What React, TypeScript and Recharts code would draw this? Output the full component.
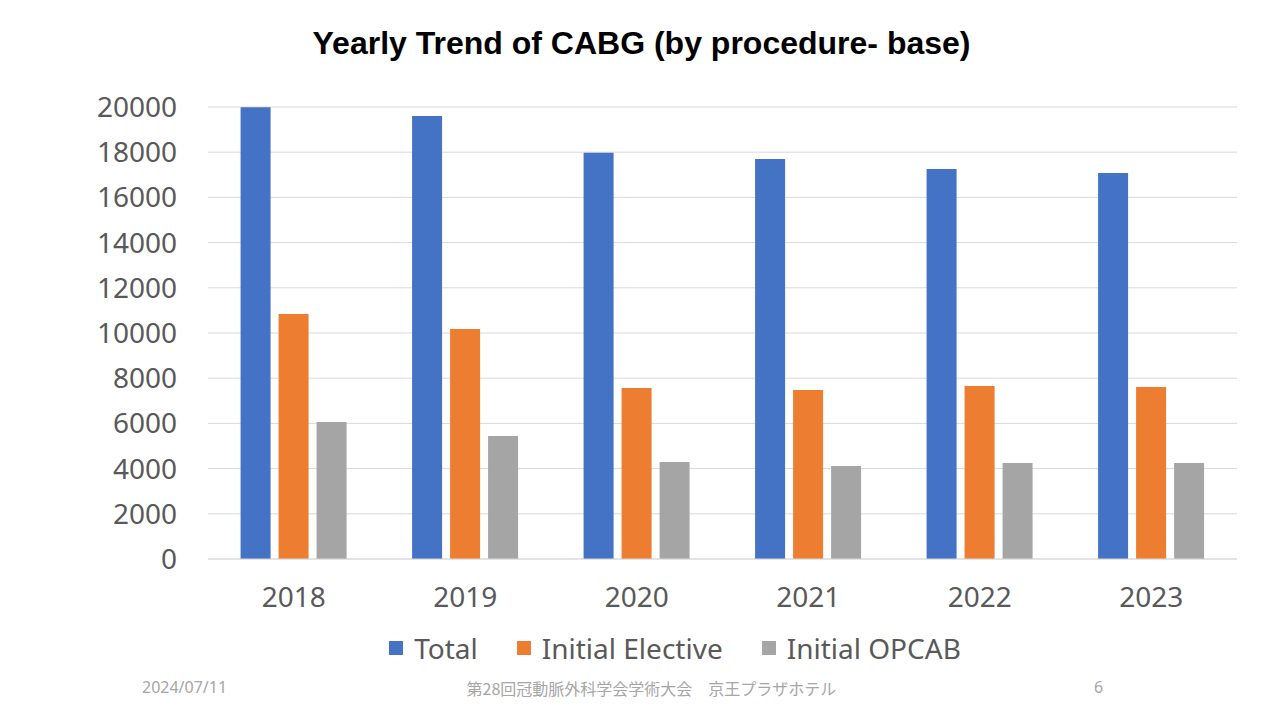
import { Bar, BarChart, CartesianGrid, Legend, XAxis, YAxis } from "recharts";

const YEARS = ["2018", "2019", "2020", "2021", "2022", "2023"];
const TOTAL = [19990, 19600, 17980, 17700, 17260, 17080];
const INITIAL_ELECTIVE = [10840, 10180, 7570, 7480, 7650, 7610];
const INITIAL_OPCAB = [6060, 5440, 4290, 4120, 4250, 4250];
const Y_TICKS = [0, 2000, 4000, 6000, 8000, 10000, 12000, 14000, 16000, 18000, 20000];

const SERIES = [
  { key: "total", name: "Total", color: "#4472C4" },
  { key: "elective", name: "Initial Elective", color: "#ED7D31" },
  { key: "opcab", name: "Initial OPCAB", color: "#A5A5A5" },
];

const FONT = "'Noto Sans', 'Open Sans', sans-serif";

function LegendRow() {
  return (
    <div
      style={{
        display: "flex",
        justifyContent: "center",
        alignItems: "center",
        gap: 39,
        fontFamily: FONT,
        fontSize: 28,
        color: "#595959",
        marginLeft: 70,
      }}
    >
      {SERIES.map((s) => (
        <div key={s.key} style={{ display: "flex", alignItems: "center", gap: 11 }}>
          <span style={{ width: 14, height: 14, background: s.color, display: "inline-block" }} />
          <span>{s.name}</span>
        </div>
      ))}
    </div>
  );
}

export default function App() {
  const data = YEARS.map((y, i) => ({
    year: y,
    total: TOTAL[i],
    elective: INITIAL_ELECTIVE[i],
    opcab: INITIAL_OPCAB[i],
  }));

  return (
    <div
      style={{
        position: "absolute",
        left: 0,
        top: 0,
        width: 1280,
        height: 720,
        background: "#fff",
        overflow: "hidden",
      }}
    >
      <div
        style={{
          position: "absolute",
          top: 25,
          left: 0,
          width: 1283,
          textAlign: "center",
          fontFamily: "'Liberation Sans', Arial, sans-serif",
          fontWeight: "bold",
          fontSize: 32,
          color: "#000",
        }}
      >
        Yearly Trend of CABG (by procedure- base)
      </div>

      <BarChart
        width={1280}
        height={720}
        data={data}
        margin={{ top: 107, right: 43, left: 0, bottom: 101 }}
        barGap={8}
        barCategoryGap="19%"
      >
        <CartesianGrid vertical={false} stroke="#d9d9d9" strokeWidth={1} />
        <XAxis
          dataKey="year"
          height={60}
          tickLine={false}
          axisLine={{ stroke: "#d9d9d9" }}
          tickSize={0}
          tickMargin={28}
          tick={{ fill: "#595959", fontSize: 28, fontFamily: FONT }}
        />
        <YAxis
          width={208}
          domain={[0, 20000]}
          ticks={Y_TICKS}
          interval={0}
          tickLine={false}
          axisLine={false}
          tickSize={0}
          tickMargin={31}
          tick={{ fill: "#595959", fontSize: 28, fontFamily: FONT }}
        />
        <Legend
          layout="horizontal"
          verticalAlign="middle"
          align="center"
          wrapperStyle={{ top: 629, left: 0, width: 1280 }}
          content={() => <LegendRow />}
        />
        {SERIES.map((s) => (
          <Bar key={s.key} dataKey={s.key} name={s.name} fill={s.color} isAnimationActive={false} />
        ))}
      </BarChart>

      <div
        style={{
          position: "absolute",
          top: 676,
          left: 142,
          fontFamily: FONT,
          fontSize: 16,
          color: "#a6a6a6",
        }}
      >
        2024/07/11
      </div>
      <div
        style={{
          position: "absolute",
          top: 676,
          left: 0,
          width: 1303,
          textAlign: "center",
          fontFamily: "'Noto Sans CJK JP', sans-serif",
          fontSize: 16,
          color: "#a6a6a6",
        }}
      >
        第28回冠動脈外科学会学術大会　京王プラザホテル
      </div>
      <div
        style={{
          position: "absolute",
          top: 676,
          left: 1094,
          fontFamily: FONT,
          fontSize: 16,
          color: "#a6a6a6",
        }}
      >
        6
      </div>
    </div>
  );
}
